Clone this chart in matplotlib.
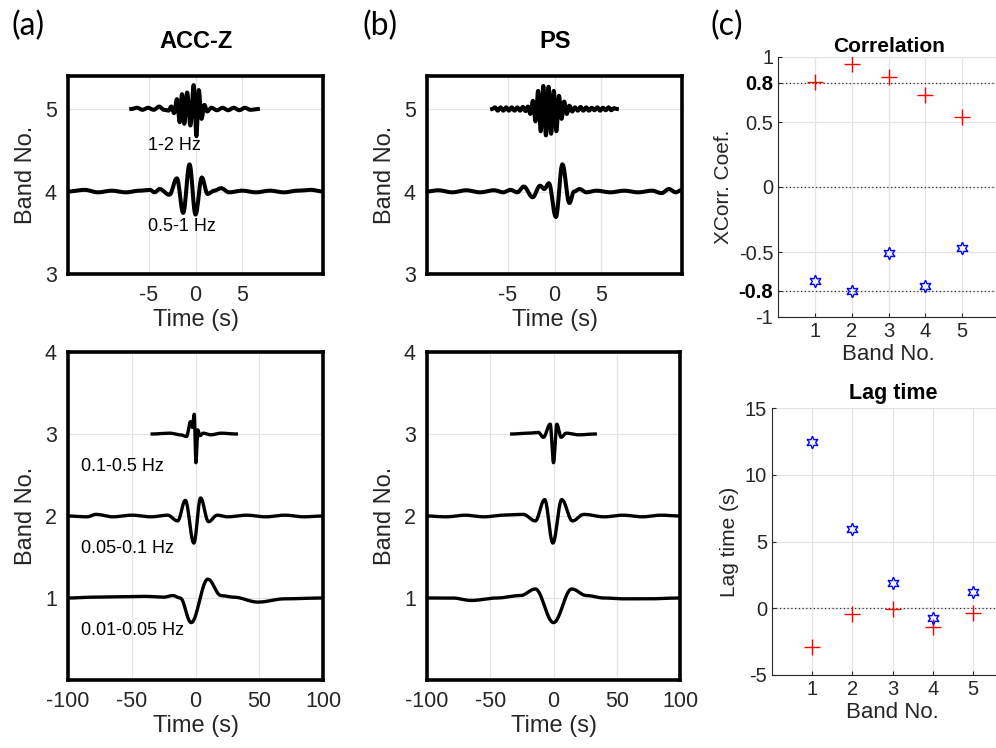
import numpy as np
import matplotlib
matplotlib.use('Agg')
import matplotlib.pyplot as plt

plt.rcParams['font.family'] = ['Liberation Sans', 'DejaVu Sans']
plt.rcParams['axes.unicode_minus'] = False

# ---- waveform keypoints (time s, offset from band line)
# ACC-Z, bands 4-5 (top panel, time in s)
acc_b5_t = [-6.9, -6.3, -5.7, -5.1, -4.5, -3.9, -3.4, -2.9, -2.6, -2.3, -2.0, -1.7, -1.45, -1.2,
            -0.9, -0.55, -0.2, 0.1, 0.35, 0.65, 0.95, 1.25, 1.7, 2.3, 2.9, 3.5, 4.1, 4.7, 5.3, 5.9, 6.7]
acc_b5_v = [0, 0.015, -0.01, 0.015, -0.01, 0.03, -0.01, -0.02, 0.03, -0.05, 0.12, -0.16, 0.18, -0.18,
            0.2, -0.2, 0.29, -0.33, 0.23, -0.12, 0.05, -0.03, 0.015, -0.015, 0.015, -0.015, 0.015, -0.015, 0.015, -0.01, 0]
acc_b4_t = [-13.7, -11.9, -10.5, -9, -7.5, -6, -4.9, -4.4, -3.86, -2.8, -2.0, -1.32, -0.64, 0.0, 0.68,
            1.3, 2.0, 2.75, 3.6, 5, 6.5, 8, 9.5, 11, 12.4, 13.7]
acc_b4_v = [0, 0.02, -0.01, 0.01, -0.01, 0.01, 0.02, -0.01, 0.03, -0.04, 0.16, -0.26, 0.33, -0.28, 0.17,
            -0.03, 0.01, 0.04, -0.01, 0.01, -0.01, 0.01, -0.01, 0.01, 0.02, 0]

# PS, bands 4-5
ps_b5_t = [-6.7, -6.4, -6.1, -5.8, -5.5, -5.2, -4.9, -4.6, -4.3, -4.0, -3.7, -3.4, -3.1, -2.85,
           -2.6, -2.32, -2.04, -1.76, -1.48, -1.2, -0.92, -0.64, -0.36, -0.08, 0.2, 0.48, 0.76, 1.04, 1.32, 1.6,
           1.9, 2.2, 2.5, 2.8, 3.1, 3.4, 3.7, 4.0, 4.3, 4.6, 4.9, 5.2, 5.5, 5.8, 6.1, 6.4, 6.7]
ps_b5_v = [0, 0.02, -0.02, 0.02, -0.02, 0.02, -0.02, 0.02, -0.02, 0.02, -0.02, 0.025, -0.025, 0.03,
           -0.06, 0.1, -0.15, 0.22, -0.27, 0.28, -0.32, 0.27, -0.3, 0.22, -0.27, 0.16, -0.12, 0.09, -0.06, 0.04,
           -0.03, 0.02, -0.02, 0.025, -0.02, 0.02, -0.02, 0.015, -0.015, 0.02, -0.02, 0.015, -0.015, 0.02, -0.015, 0.01, 0]
ps_b4_t = [-13.7, -12.5, -11, -9.5, -8, -6.5, -5.5, -4.75, -4.0, -3.3, -2.35, -1.55, -1.1, -0.6, 0.15,
           0.85, 1.6, 2.1, 2.7, 3.4, 4.5, 6, 7.5, 9, 10.5, 11.5, 12.3, 13, 13.7]
ps_b4_v = [0, 0.015, -0.01, 0.015, -0.01, 0.015, -0.01, 0.02, -0.01, 0.06, -0.07, 0.07, 0.03, 0.1, -0.31,
           0.33, -0.14, 0.0, 0.03, -0.01, 0.01, -0.01, 0.01, -0.01, 0.01, -0.02, 0.03, -0.01, 0.02]

# ACC-Z, bands 1-3 (bottom panel)
acc_b3_t = [-34, -20, -12, -7, -4, -2.5, -1.0, 0.3, 1.8, 3.5, 6, 12, 20, 32]
acc_b3_v = [0, 0.01, -0.01, -0.03, 0.15, 0.08, 0.24, -0.35, 0.05, -0.02, 0.01, -0.01, 0.01, 0]
acc_b2_t = [-100, -85, -78, -65, -50, -35, -22, -14, -8, -1.3, 4, 10.2, 17, 25, 40, 55, 70, 85, 100]
acc_b2_v = [0, -0.01, 0.02, -0.01, 0.01, -0.01, 0.01, -0.06, 0.19, -0.33, 0.22, -0.07, 0.01, -0.01, 0.01,
            -0.01, 0.01, -0.01, 0]
acc_b1_t = [-100, -80, -60, -40, -25, -17.8, -12, -3.4, 9.7, 20, 30, 49, 70, 100]
acc_b1_v = [0, 0.01, 0.015, 0.02, 0.01, 0.03, 0.0, -0.3, 0.23, 0.03, 0.01, -0.05, -0.01, 0]

# PS, bands 1-3
ps_b3_t = [-33, -20, -12, -8, -2.6, 0, 2.6, 6, 10, 20, 33]
ps_b3_v = [0, 0.01, 0.02, -0.04, 0.12, -0.35, 0.12, -0.04, 0.01, -0.01, 0]
ps_b2_t = [-100, -85, -70, -55, -40, -24, -14.4, -7, -0.5, 6.5, 15, 24, 40, 55, 70, 85, 100]
ps_b2_v = [0, -0.01, 0.01, -0.01, 0.01, 0.02, -0.06, 0.2, -0.33, 0.2, -0.06, 0.02, -0.01, 0.01, -0.01, 0.01, 0]
ps_b1_t = [-100, -80, -65, -45, -26, -14.4, 0, 14.4, 26, 40, 55, 75, 100]
ps_b1_v = [0, 0.0, -0.03, 0.0, 0.03, 0.11, -0.3, 0.11, 0.03, 0.0, -0.01, -0.01, 0]

band_labels_hi = ['1-2 Hz', '0.5-1 Hz']
band_labels_lo = ['0.1-0.5 Hz', '0.05-0.1 Hz', '0.01-0.05 Hz']

# ---- panel (c)
bands = [1, 2, 3, 4, 5]
corr_pos = [0.805, 0.95, 0.846, 0.705, 0.537]
corr_neg = [-0.722, -0.80, -0.51, -0.764, -0.468]
lag_pos = [-2.88, -0.44, -0.06, -1.43, -0.34]
lag_neg = [12.46, 5.9, 1.86, -0.76, 1.23]

W, H = 996, 748
fig = plt.figure(figsize=(W / 100, H / 100), dpi=100)


def box(x0, y0, x1, y1):
    # pixel box -> figure fraction
    return [x0 / W, 1 - y1 / H, (x1 - x0) / W, (y1 - y0) / H]


def trace(t, v, n=30):
    # smooth curve through extrema keypoints
    xs, ys = [], []
    for i in range(len(t) - 1):
        s = np.linspace(0, 1, n, endpoint=False)
        xs.append(t[i] + (t[i + 1] - t[i]) * s)
        ys.append(v[i] + (v[i + 1] - v[i]) * (1 - np.cos(np.pi * s)) / 2)
    xs.append([t[-1]])
    ys.append([v[-1]])
    return np.concatenate(xs), np.concatenate(ys)


def wave_axes(rect, xlim, ylim, xticks, yticks):
    ax = fig.add_axes(rect)
    ax.set_xlim(*xlim)
    ax.set_ylim(*ylim)
    ax.set_xticks(xticks)
    ax.set_yticks(yticks)
    ax.grid(True, color='#e3e3e3', lw=0.9)
    ax.set_axisbelow(True)
    for sp in ax.spines.values():
        sp.set_linewidth(2.6)
    ax.tick_params(length=0, pad=8, labelsize=15.5, labelcolor='#262626')
    ax.set_xlabel('Time (s)', fontsize=17, color='#262626', labelpad=2)
    ax.set_ylabel('Band No.', fontsize=17, color='#262626', labelpad=6)
    return ax


top_sets = [
    (box(68, 76, 323, 274), [(acc_b5_t, acc_b5_v, 5), (acc_b4_t, acc_b4_v, 4)]),
    (box(427, 76, 682, 274), [(ps_b5_t, ps_b5_v, 5), (ps_b4_t, ps_b4_v, 4)]),
]
bot_sets = [
    (box(68, 352, 323, 680), [(acc_b3_t, acc_b3_v, 3), (acc_b2_t, acc_b2_v, 2), (acc_b1_t, acc_b1_v, 1)]),
    (box(427, 352, 680, 680), [(ps_b3_t, ps_b3_v, 3), (ps_b2_t, ps_b2_v, 2), (ps_b1_t, ps_b1_v, 1)]),
]

for k, (rect, traces) in enumerate(top_sets):
    ax = wave_axes(rect, (-13.7, 13.7), (3, 5.4), [-5, 0, 5], [3, 4, 5])
    for t, v, b in traces:
        x, y = trace(t, v, 12)
        ax.plot(x, b + y, color='black', lw=2.9, solid_joinstyle='round')
    if k == 0:
        ax.text(-2.3, 4.56, band_labels_hi[0], ha='center', va='center', fontsize=13)
        ax.text(-1.5, 3.57, band_labels_hi[1], ha='center', va='center', fontsize=13)

for k, (rect, traces) in enumerate(bot_sets):
    ax = wave_axes(rect, (-100, 100), (0, 4), [-100, -50, 0, 50, 100], [1, 2, 3, 4])
    for t, v, b in traces:
        x, y = trace(t, v, 30)
        ax.plot(x, b + y, color='black', lw=2.4, solid_joinstyle='round')
    if k == 0:
        for lab, yy in zip(band_labels_lo, [2.6, 1.6, 0.6]):
            ax.text(-90, yy, lab, ha='left', va='center', fontsize=13)


def scatter_axes(rect, ylim, yticks, ylabel, dotted):
    ax = fig.add_axes(rect)
    ax.set_xlim(0, 6)
    ax.set_ylim(*ylim)
    ax.set_xticks(bands)
    ax.set_yticks(yticks)
    ax.grid(True, color='#e3e3e3', lw=0.9)
    ax.set_axisbelow(True)
    for y in dotted:
        ax.axhline(y, color='#333333', lw=0.9, ls=(0, (1, 2)))
    ax.spines['top'].set_visible(False)
    ax.spines['right'].set_visible(False)
    for sp in ('left', 'bottom'):
        ax.spines[sp].set_color('#262626')
        ax.spines[sp].set_linewidth(0.8)
    ax.tick_params(direction='in', length=3, labelsize=14.5, labelcolor='#262626', color='#262626')
    ax.set_xlabel('Band No.', fontsize=16, color='#262626', labelpad=2)
    ax.set_ylabel(ylabel, fontsize=15, color='#262626', labelpad=4)
    return ax


ax = scatter_axes(box(778, 57, 999, 317), (-1, 1), [-1, -0.8, -0.5, 0, 0.5, 0.8, 1],
                  'XCorr. Coef.', [0.8, 0, -0.8])
ax.set_yticklabels(['-1', '-0.8', '-0.5', '0', '0.5', '0.8', '1'])
for lbl in ax.get_yticklabels():
    if lbl.get_text() in ('0.8', '-0.8'):
        lbl.set_fontweight('bold')
        lbl.set_color('black')
ax.plot(bands, corr_pos, ls='none', marker='+', ms=12, mew=1.0, color='#ff0000')
ax.plot(bands, corr_neg, ls='none', marker=(6, 1, 0), ms=9, mew=1.0, mfc='none', mec='#0000ff')

ax = scatter_axes(box(772, 408, 1013, 675), (-5, 15), [-5, 0, 5, 10, 15], 'Lag time (s)', [0])
ax.plot(bands, lag_pos, ls='none', marker='+', ms=12, mew=1.0, color='#ff0000')
ax.plot(bands, lag_neg, ls='none', marker=(6, 1, 0), ms=9, mew=1.0, mfc='none', mec='#0000ff')

# titles and panel letters
fig.text(196 / W, 1 - 42 / H, 'ACC-Z', ha='center', va='center', fontsize=17, fontweight='bold')
fig.text(555 / W, 1 - 42 / H, 'PS', ha='center', va='center', fontsize=17, fontweight='bold')
fig.text(889 / W, 1 - 46 / H, 'Correlation', ha='center', va='center', fontsize=15, fontweight='bold')
fig.text(893 / W, 1 - 393 / H, 'Lag time', ha='center', va='center', fontsize=15.5, fontweight='bold')
for lab, x in zip(['(a)', '(b)', '(c)'], [11, 363, 710]):
    fig.text(x / W, 1 - 26 / H, lab, ha='left', va='center', fontsize=23,
             family=['Lato', 'DejaVu Sans'])

fig.savefig('out.png', dpi=100)
